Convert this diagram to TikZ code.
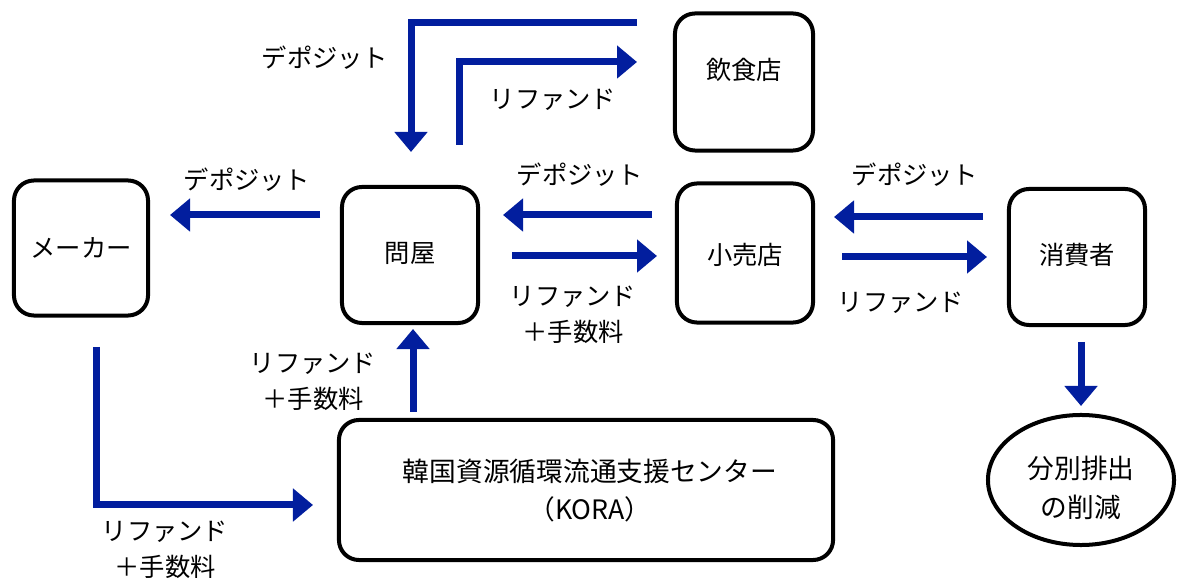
\documentclass[tikz,border=0pt]{standalone}
\usepackage{fontspec}
\setmainfont{Noto Sans CJK JP}
\usetikzlibrary{arrows.meta,shapes.geometric}
\definecolor{arrowblue}{RGB}{2,30,158}
\tikzset{
  box/.style={draw=black, line width=0.1cm, rounded corners=0.5cm, inner sep=0pt},
  flow/.style={draw=arrowblue, line width=0.175cm, line join=miter,
    -{Triangle[length=0.5cm,width=0.8cm]}},
  lbl/.style={inner sep=0pt, align=center},
}
\begin{document}
\begin{tikzpicture}[x=0.025cm,y=-0.025cm,font=\fontsize{18}{26}\selectfont]
\useasboundingbox (0,0) rectangle (1178,582);
% boxes
\node[box, minimum width=3.35cm, minimum height=3.375cm] (maker) at (81,248) {};
\node at (81,248) {メーカー};
\node[box, minimum width=3.4cm, minimum height=3.4cm] (toiya) at (410,255) {};
\node at (410,253) {問屋};
\node[box, minimum width=3.45cm, minimum height=3.425cm] (inshoku) at (744,82) {};
\node at (744,70) {飲食店};
\node[box, minimum width=3.4cm, minimum height=3.475cm] (kouri) at (745,253) {};
\node at (745,255) {小売店};
\node[box, minimum width=3.4cm, minimum height=3.4cm] (shohi) at (1077,257) {};
\node at (1077,255) {消費者};
\node[box, minimum width=12.35cm, minimum height=3.5cm] (kora) at (586,490) {};
\node[lbl, font=\fontsize{19}{27}\selectfont] at (590,491) {韓国資源循環流通支援センター\\（KORA）};
\node[ellipse, draw=black, line width=0.1cm, minimum width=4.65cm, minimum height=3.25cm, inner sep=0pt] (sakugen) at (1081,480) {};
\node[lbl, font=\fontsize{19}{28}\selectfont] at (1081,488) {分別排出\\の削減};
% arrow end points
\coordinate (d1s) at (637,23);   \coordinate (d1e) at (411,152);
\coordinate (r1s) at (459,145);  \coordinate (r1e) at (637,62);
\coordinate (d2s) at (320,215);  \coordinate (d2e) at (170,215);
\coordinate (d3s) at (652,215);  \coordinate (d3e) at (503,215);
\coordinate (r3s) at (512,256);  \coordinate (r3e) at (657,256);
\coordinate (d4s) at (983,217);  \coordinate (d4e) at (834,217);
\coordinate (r4s) at (842,257);  \coordinate (r4e) at (987,257);
\coordinate (es) at (1081,342);  \coordinate (ee) at (1081,406);
\coordinate (ks) at (413,412);   \coordinate (ke) at (413,329);
\coordinate (ms) at (96,347);    \coordinate (me) at (313,505);
% arrows
\draw[flow] (d1s) -| (d1e);
\draw[flow] (r1s) |- (r1e);
\draw[flow] (d2s) -- (d2e);
\draw[flow] (d3s) -- (d3e);
\draw[flow] (r3s) -- (r3e);
\draw[flow] (d4s) -- (d4e);
\draw[flow] (r4s) -- (r4e);
\draw[flow] (es) -- (ee);
\draw[flow] (ks) -- (ke);
\draw[flow] (ms) |- (me);
% labels
\node[lbl] (l1) at (325,58) {デポジット};
\node[lbl] (l2) at (553,100) {リファンド};
\node[lbl] (l3) at (247,180) {デポジット};
\node[lbl] (l4) at (580,175) {デポジット};
\node[lbl] (l5) at (573,315) {リファンド\\＋手数料};
\node[lbl] (l6) at (915,175) {デポジット};
\node[lbl] (l7) at (901,303) {リファンド};
\node[lbl] (l8) at (313,382) {リファンド\\＋手数料};
\node[lbl] (l9) at (165,550) {リファンド\\＋手数料};
\end{tikzpicture}
\end{document}
